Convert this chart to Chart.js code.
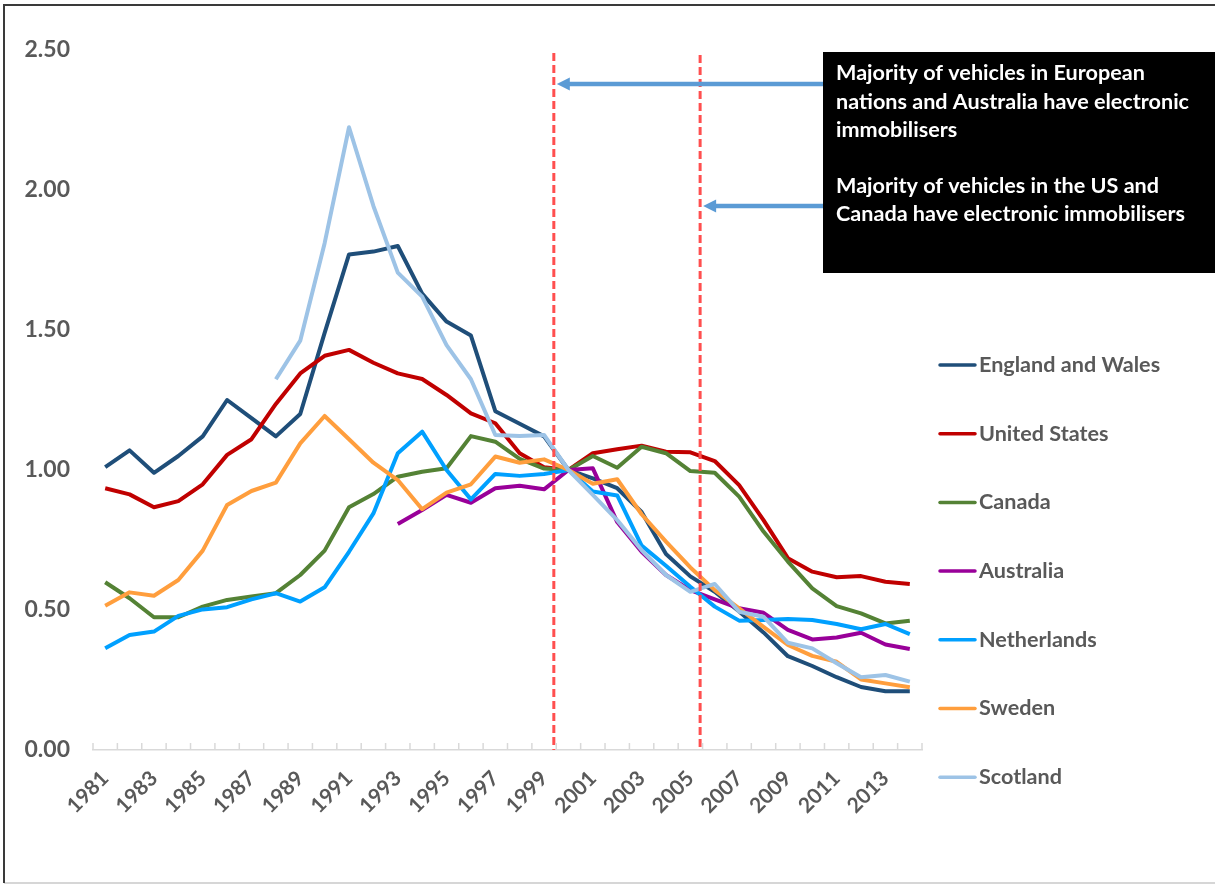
<!DOCTYPE html>
<html>
<head>
<meta charset="utf-8">
<script src="https://cdn.jsdelivr.net/npm/chart.js@4.4.1/dist/chart.umd.min.js"></script>
<style>
  html, body { margin: 0; padding: 0; background: #fff; }
  #wrap { width: 1215px; height: 884px; position: relative; }
</style>
</head>
<body>
<div id="wrap"><canvas id="myChart" width="1215" height="884"></canvas></div>
<script>
// x축: 1981 ~ 2014
const years = ['1981','1982','1983','1984','1985','1986','1987','1988','1989','1990',
  '1991','1992','1993','1994','1995','1996','1997','1998','1999','2000',
  '2001','2002','2003','2004','2005','2006','2007','2008','2009','2010',
  '2011','2012','2013','2014'];
// 눈금에 보이는 연도 (격년)
const shownYears = ['1981','1983','1985','1987','1989','1991','1993','1995','1997',
  '1999','2001','2003','2005','2007','2009','2011','2013'];
const yTicks = [0, 0.5, 1, 1.5, 2, 2.5];

const seriesNames = ['England and Wales', 'United States', 'Canada', 'Australia',
  'Netherlands', 'Sweden', 'Scotland'];
const seriesColors = ['#1F4E79', '#C00000', '#548235', '#990099', '#00A0FF', '#FF9E3D', '#9DC3E6'];

const englandWales = [1.01, 1.07, 0.99, 1.05, 1.12, 1.25, 1.185, 1.12, 1.20, 1.49,
  1.77, 1.78, 1.80, 1.63, 1.53, 1.48, 1.21, 1.165, 1.12, 1.00,
  0.97, 0.935, 0.85, 0.70, 0.62, 0.565, 0.495, 0.42, 0.335, 0.30,
  0.26, 0.225, 0.21, 0.21];
const unitedStates = [0.935, 0.913, 0.867, 0.889, 0.949, 1.054, 1.11, 1.236, 1.345, 1.408,
  1.429, 1.383, 1.345, 1.325, 1.268, 1.202, 1.167, 1.06, 1.01, 1.00,
  1.06, 1.074, 1.087, 1.065, 1.063, 1.032, 0.946, 0.821, 0.685, 0.637,
  0.617, 0.621, 0.601, 0.593];
const canada = [0.599, 0.542, 0.474, 0.474, 0.512, 0.536, 0.548, 0.56, 0.625, 0.712,
  0.867, 0.914, 0.976, 0.994, 1.006, 1.121, 1.101, 1.04, 1.005, 1.00,
  1.05, 1.008, 1.083, 1.06, 0.996, 0.99, 0.905, 0.78, 0.673, 0.577,
  0.514, 0.488, 0.452, 0.462];
const australia = [null, null, null, null, null, null, null, null, null, null,
  null, null, 0.807, 0.857, 0.911, 0.883, 0.935, 0.944, 0.931, 1.00,
  1.006, 0.814, 0.708, 0.625, 0.571, 0.538, 0.506, 0.49, 0.429, 0.395,
  0.402, 0.419, 0.377, 0.361];
const netherlands = [0.363, 0.411, 0.423, 0.479, 0.502, 0.51, 0.538, 0.56, 0.53, 0.581,
  0.708, 0.845, 1.06, 1.137, 1.00, 0.895, 0.986, 0.979, 0.986, 1.00,
  0.923, 0.909, 0.73, 0.658, 0.583, 0.512, 0.462, 0.464, 0.468, 0.464,
  0.45, 0.431, 0.45, 0.414];
const sweden = [0.515, 0.563, 0.551, 0.607, 0.712, 0.875, 0.925, 0.955, 1.095, 1.193,
  1.11, 1.026, 0.964, 0.86, 0.919, 0.949, 1.048, 1.026, 1.038, 1.00,
  0.951, 0.967, 0.842, 0.744, 0.652, 0.571, 0.506, 0.44, 0.375, 0.336,
  0.315, 0.252, 0.238, 0.224];
const scotland = [null, null, null, null, null, null, null, 1.324, 1.462, 1.81,
  2.224, 1.943, 1.705, 1.619, 1.446, 1.324, 1.125, 1.121, 1.125, 1.00,
  0.911, 0.821, 0.714, 0.625, 0.565, 0.593, 0.494, 0.476, 0.383, 0.363,
  0.31, 0.26, 0.268, 0.244];
const seriesValues = [englandWales, unitedStates, canada, australia, netherlands, sweden, scotland];

// 빨간 점선 위치 (연도, 소수)
const markerYears = [1999.4, 2005.4];
const noteLines = [
  ['Majority of vehicles in European', 'nations and Australia have electronic', 'immobilisers'],
  ['Majority of vehicles in the US and', 'Canada have electronic immobilisers']
];

const FONT = 'Lato, "Open Sans", sans-serif';
const GREY = '#595959';

// 테두리, 주석 상자, 화살표, 범례, 눈금 그리기
const extras = {
  id: 'extras',
  beforeDraw(chart) {
    const c = chart.ctx;
    c.save();
    c.fillStyle = '#fff';
    c.fillRect(0, 0, chart.width, chart.height);
    c.restore();
  },
  afterDatasetsDraw(chart) {
    const c = chart.ctx;
    const xs = chart.scales.x;
    const area = chart.chartArea;
    // 점선
    c.save();
    c.strokeStyle = '#FF4F4F';
    c.lineWidth = 3;
    c.setLineDash([8, 4]);
    const tops = [area.top + 3, area.top + 5];
    const xm = markerYears.map(yr => xs.getPixelForValue(yr - Number(years[0])));
    xm.forEach((x, i) => {
      c.beginPath();
      c.moveTo(x, tops[i]);
      c.lineTo(x, area.bottom);
      c.stroke();
    });
    c.restore();

    // 화살표
    const boxLeft = 823;
    const arrowY = [84, 206];
    c.save();
    c.strokeStyle = '#5B9BD5';
    c.fillStyle = '#5B9BD5';
    c.lineWidth = 4.5;
    xm.forEach((x, i) => {
      const tip = x + 3;
      const y = arrowY[i];
      c.beginPath();
      c.moveTo(boxLeft, y);
      c.lineTo(tip + 10, y);
      c.stroke();
      c.beginPath();
      c.moveTo(tip, y);
      c.lineTo(tip + 13, y - 6.5);
      c.lineTo(tip + 13, y + 6.5);
      c.closePath();
      c.fill();
    });
    c.restore();

    // x축 눈금 (축 위쪽으로)
    c.save();
    c.strokeStyle = '#D9D9D9';
    c.lineWidth = 1.5;
    for (let i = 0; i <= years.length; i++) {
      const x = xs.getPixelForValue(i - 0.5);
      c.beginPath();
      c.moveTo(x, area.bottom);
      c.lineTo(x, area.bottom - 7);
      c.stroke();
    }
    c.restore();
  },
  afterDraw(chart) {
    const c = chart.ctx;
    c.save();
    // 테두리
    c.strokeStyle = '#C8C8C8';
    c.lineWidth = 1.5;
    c.beginPath();
    c.moveTo(4, 883);
    c.lineTo(1215, 883);
    c.stroke();
    c.strokeStyle = '#3a3a3a';
    c.lineWidth = 2;
    c.beginPath();
    c.moveTo(4, 883);
    c.lineTo(4, 5);
    c.lineTo(1215, 5);
    c.stroke();

    // 검은 주석 상자
    c.fillStyle = '#000';
    c.fillRect(823, 52, 392, 221);
    c.fillStyle = '#fff';
    c.font = 'bold 21.6px ' + FONT;
    c.textBaseline = 'middle';
    c.textAlign = 'left';
    const lineYs = [[73, 102, 130], [186, 214]];
    noteLines.forEach((block, b) => {
      block.forEach((t, k) => c.fillText(t, 836, lineYs[b][k]));
    });

    // 범례
    c.font = 'bold 21.6px ' + FONT;
    c.fillStyle = GREY;
    chart.data.datasets.forEach((ds, i) => {
      const y = 365 + i * 68.7;
      c.strokeStyle = ds.borderColor;
      c.lineWidth = 3.5;
      c.lineCap = 'round';
      c.beginPath();
      c.moveTo(940, y);
      c.lineTo(975, y);
      c.stroke();
      c.fillText(ds.label, 979, y);
    });
    c.restore();
  }
};

const ctx = document.getElementById('myChart').getContext('2d');
const myChart = new Chart(ctx, {
  type: 'line',
  data: {
    labels: years,
    datasets: seriesNames.map((name, i) => ({
      label: name,
      data: seriesValues[i],
      borderColor: seriesColors[i],
      backgroundColor: seriesColors[i],
      borderWidth: 4,
      pointRadius: 0,
      pointHoverRadius: 0,
      fill: false,
      tension: 0,
      borderJoinStyle: 'round',
      spanGaps: false,
      order: seriesNames.length - 1 - i
    }))
  },
  options: {
    responsive: false,
    animation: false,
    devicePixelRatio: 1,
    layout: { padding: { left: 0, top: 50, right: 293, bottom: 0 } },
    scales: {
      x: {
        type: 'category',
        offset: true,
        grid: { display: false },
        border: { display: true, color: '#D9D9D9', width: 1.5 },
        ticks: {
          autoSkip: false,
          maxRotation: 45,
          minRotation: 45,
          padding: 8,
          color: GREY,
          font: { family: FONT, size: 21, weight: 'bold' },
          callback: (val, idx) => shownYears.includes(years[idx]) ? years[idx] : ''
        },
        afterFit: scale => { scale.height = 134; }
      },
      y: {
        min: 0,
        max: 2.5,
        grid: { display: false, drawTicks: false },
        border: { display: false },
        afterBuildTicks: scale => { scale.ticks = yTicks.map(v => ({ value: v })); },
        ticks: {
          padding: 23,
          color: GREY,
          font: { family: FONT, size: 23, weight: 'bold' },
          callback: v => Number(v).toFixed(2)
        },
        afterFit: scale => { scale.width = 93; }
      }
    },
    plugins: {
      legend: { display: false },
      tooltip: { enabled: false }
    }
  },
  plugins: [extras]
});
</script>
</body>
</html>
